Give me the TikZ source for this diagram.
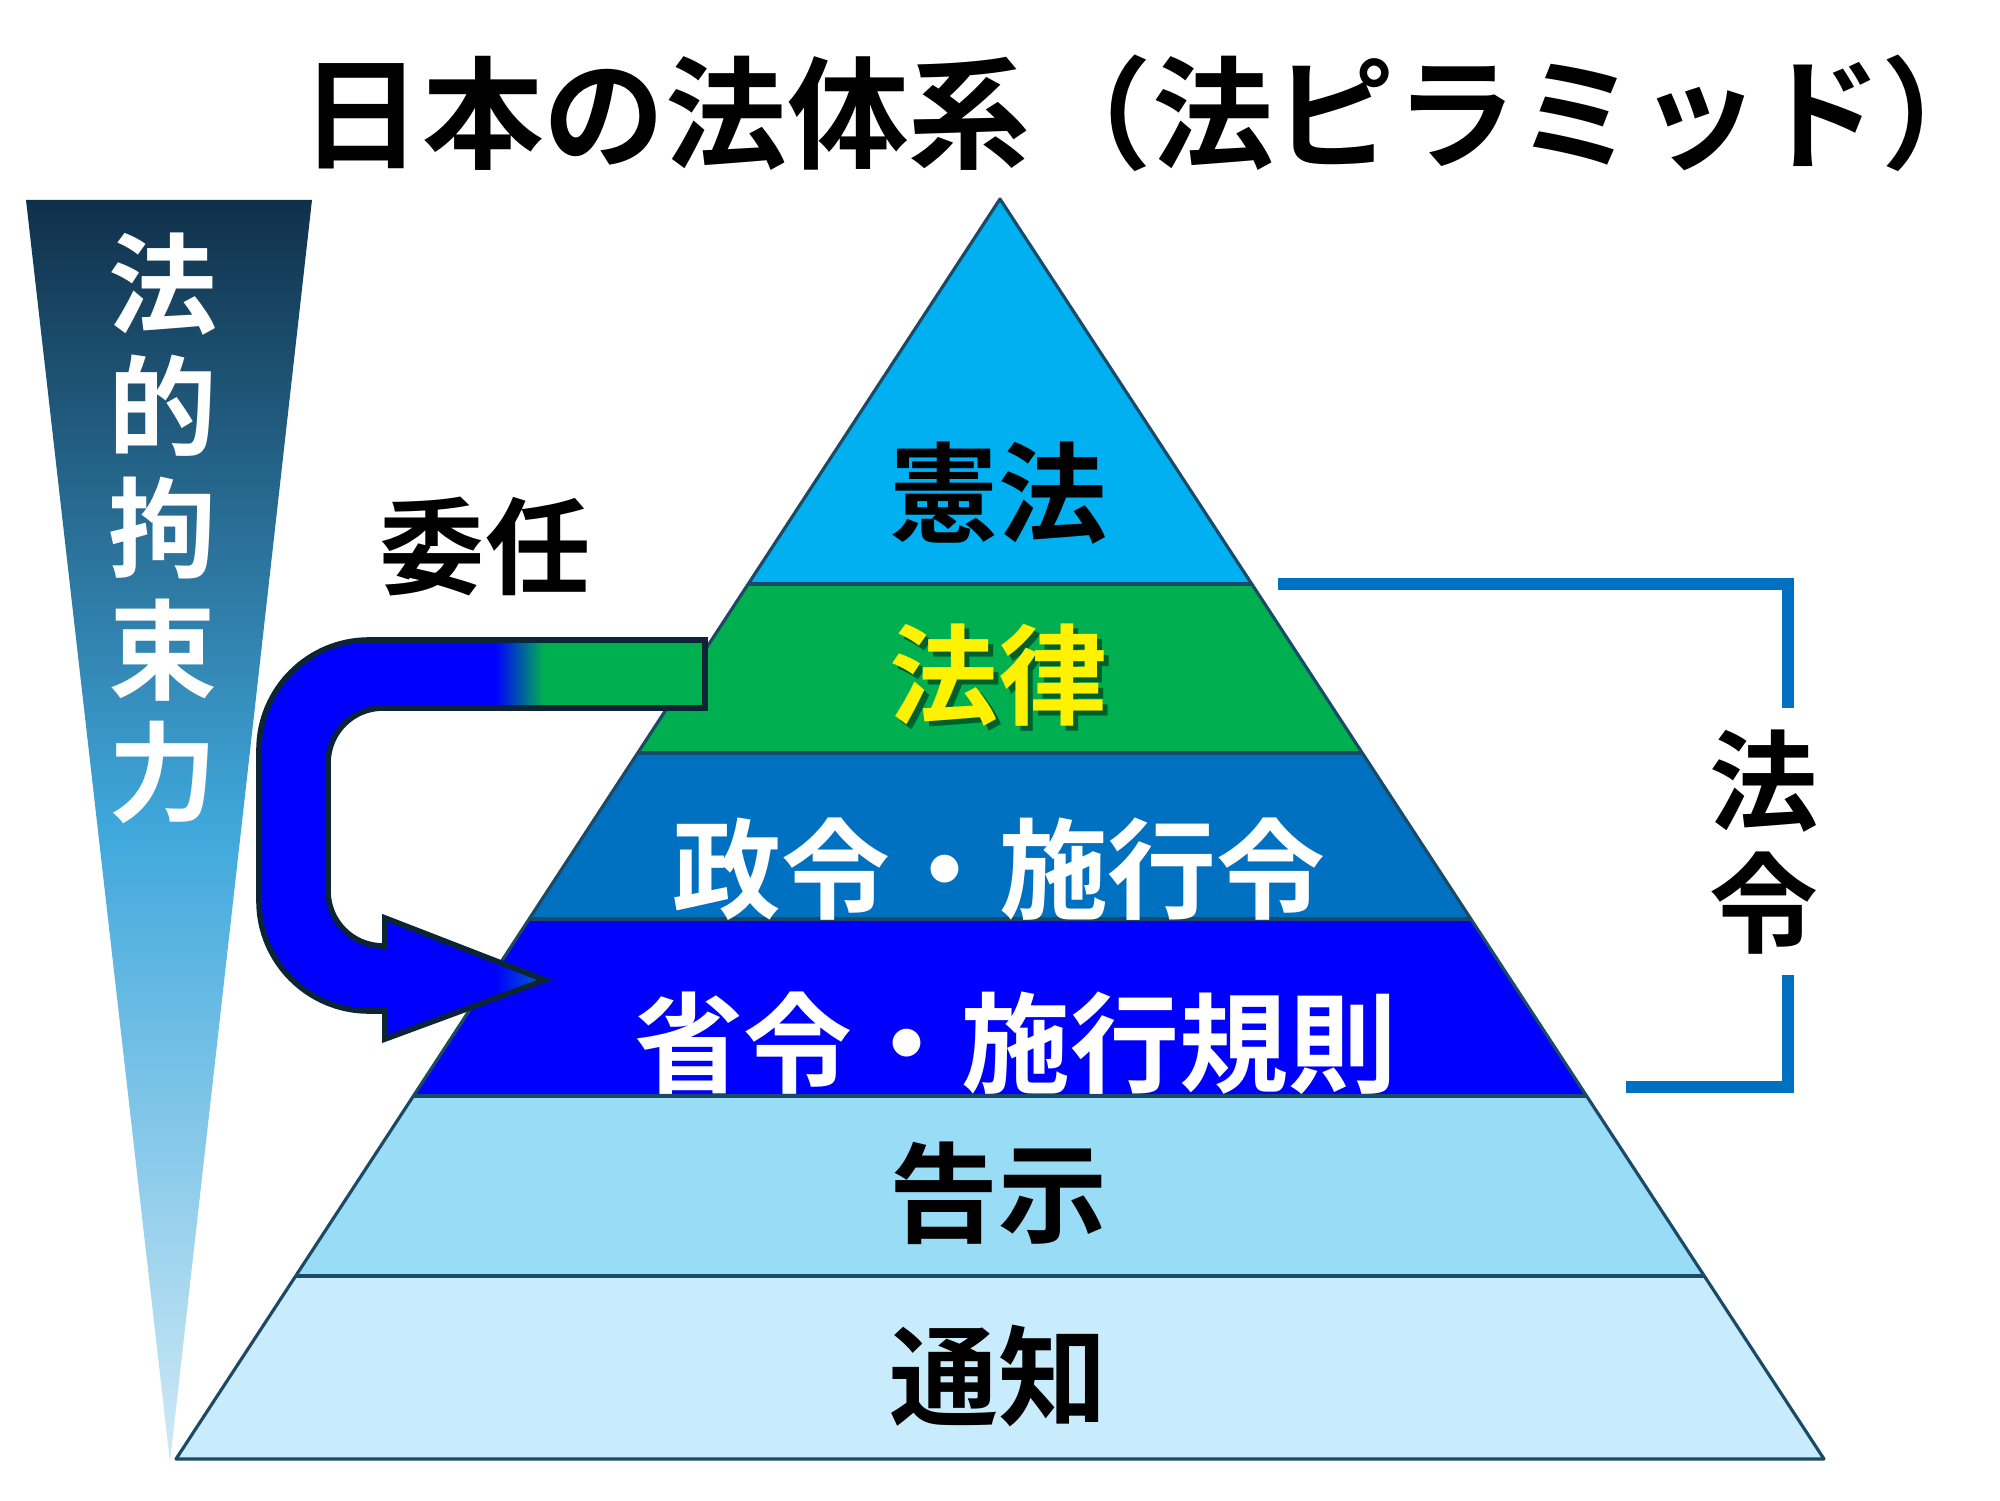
\documentclass[tikz,border=0pt]{standalone}
\usepackage{fontspec}
\newfontfamily\jpfont{Noto Sans CJK JP Bold}
\usetikzlibrary{positioning}

\definecolor{kenpocol}{HTML}{00B0F0}
\definecolor{horitsucol}{HTML}{00B050}
\definecolor{seireicol}{HTML}{0070C0}
\definecolor{shoreicol}{HTML}{0000FF}
\definecolor{kokujicol}{HTML}{99DCF6}
\definecolor{tsuchicol}{HTML}{C8ECFB}
\definecolor{edgecol}{HTML}{1A4A66}
\definecolor{arrowedge}{HTML}{0B2537}
\definecolor{wedgetop}{HTML}{10304A}
\definecolor{wedgemid}{HTML}{40A8DC}
\definecolor{wedgebot}{HTML}{D0EAF7}

\begin{document}
\begin{tikzpicture}[
		layerline/.style={draw=edgecol,line width=0.9pt},
		bracketline/.style={draw=seireicol,line width=3.6pt},
		lbl/.style={font=\jpfont\fontsize{31}{31}\selectfont,inner sep=0pt},
		vlbl/.style={font=\jpfont\fontsize{31}{34.7}\selectfont,inner sep=0pt,align=center},
	]
		\useasboundingbox (0,0) rectangle (20,15);
		
		% pyramid
		\coordinate (apex) at (10.00,13.01);
		\coordinate (bl) at (1.76,0.41);
		\coordinate (br) at (18.24,0.41);
		\begin{scope}
			\clip (apex) -- (bl) -- (br) -- cycle;
			\fill[kenpocol] (0,9.16) rectangle (20,13.1);
			\fill[horitsucol] (0,7.47) rectangle (20,9.16);
			\fill[seireicol] (0,5.81) rectangle (20,7.47);
			\fill[shoreicol] (0,4.04) rectangle (20,5.81);
			\fill[kokujicol] (0,2.24) rectangle (20,4.04);
			\fill[tsuchicol] (0,0.3) rectangle (20,2.24);
			\foreach \y in {9.16,7.47,5.81,4.04,2.24}
				\draw[layerline] (0,\y)--(20,\y);
		\end{scope}
		\draw[layerline,line join=round] (apex)--(bl)--(br)--cycle;
		
		\node[lbl] (kenpo) at (9.98,10.07) {憲法};
		\node[lbl,text=black,opacity=0.45,xshift=1.5pt,yshift=-1.5pt] (horitsushadow) at (9.98,8.25) {法律};
		\node[lbl,text=yellow] (horitsu) at (9.98,8.25) {法律};
		\node[lbl,text=white] (seirei) at (9.99,6.31) {政令・施行令};
		\node[lbl,text=white] (shorei) at (10.16,4.57) {省令・施行規則};
		\node[lbl] (kokuji) at (9.98,3.07) {告示};
		\node[lbl] (tsuchi) at (9.98,1.24) {通知};
		
		% title
		\node[font=\jpfont\fontsize{34.6}{34.6}\selectfont,inner sep=0pt] (title) at (11.52,13.87) {日本の法体系（法ピラミッド）};
		
		% wedge
		\begin{scope}
			\clip (0.26,13.0)--(3.12,13.0)--(1.70,0.38)--cycle;
			\shade[top color=wedgetop,bottom color=wedgebot,middle color=wedgemid] (0,0.38) rectangle (3.2,13.0);
		\end{scope}
		\node[vlbl,text=white] (kosokuryoku) at (1.63,9.72) {法\\的\\拘\\束\\力};
		
		% bracket
		\draw[bracketline] (12.78,9.16) -| (17.88,7.92);
		\draw[bracketline] (17.88,5.25) |- (16.26,4.13);
		\node[vlbl] (horei) at (17.64,6.58) {法\\令};
		
		% delegation arrow
		\node[lbl,font=\jpfont\fontsize{30}{30}\selectfont] (inin) at (4.85,9.54) {委任};
		\def\arrowpath{(7.05,8.60) -- (3.69,8.60) arc[start angle=90,end angle=180,radius=1.1] -- (2.59,5.99) arc[start angle=180,end angle=270,radius=1.1] -- (3.85,4.89) -- (3.85,4.61) -- (5.45,5.20) -- (3.85,5.82) -- (3.85,5.54) -- (3.83,5.54) arc[start angle=270,end angle=180,radius=0.55] -- (3.28,7.37) arc[start angle=180,end angle=90,radius=0.55] -- (7.05,7.92) -- cycle}
		\begin{scope}
			\clip \arrowpath;
			\fill[shoreicol] (2,4) rectangle (7.2,9);
			\shade[left color=shoreicol,right color=horitsucol] (4.95,7.8) rectangle (5.44,8.7);
			\fill[horitsucol] (5.44,7.8) rectangle (7.2,8.7);
			\shade[left color=shoreicol,right color=seireicol] (4.95,4.5) rectangle (5.5,5.9);
		\end{scope}
		\draw[draw=arrowedge,line width=1.6pt,line join=miter] \arrowpath;
	\end{tikzpicture}
\end{document}
